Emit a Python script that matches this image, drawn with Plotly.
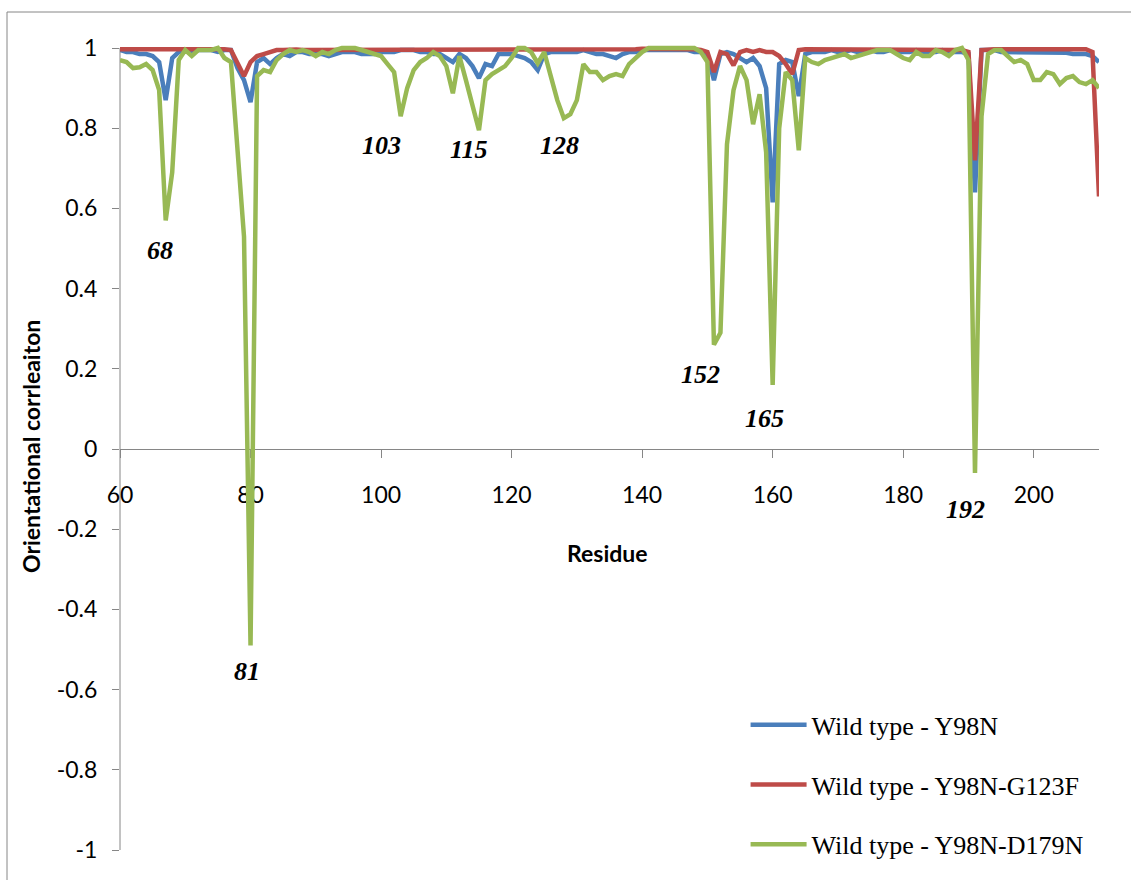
import plotly.graph_objects as go

residues = list(range(60, 211))

wt_y98n = [
    0.995, 0.99, 0.99, 0.985, 0.985, 0.98, 0.965, 0.87, 0.975, 0.99,      # 60-69
    0.995, 0.99, 0.995, 0.995, 0.995, 0.99, 0.995, 0.995, 0.95, 0.92,     # 70-79
    0.865, 0.965, 0.975, 0.96, 0.975, 0.985, 0.98, 0.99, 0.99, 0.985,     # 80-89
    0.985, 0.985, 0.98, 0.985, 0.99, 0.99, 0.99, 0.985, 0.985, 0.985,     # 90-99
    0.99, 0.99, 0.99, 0.995, 0.995, 0.995, 0.99, 0.99, 0.985, 0.985,      # 100-109
    0.975, 0.965, 0.985, 0.975, 0.955, 0.925, 0.96, 0.955, 0.985, 0.985,  # 110-119
    0.985, 0.98, 0.975, 0.965, 0.945, 0.985, 0.99, 0.99, 0.99, 0.99,      # 120-129
    0.99, 0.995, 0.99, 0.985, 0.985, 0.98, 0.975, 0.985, 0.99, 0.99,      # 130-139
    0.995, 0.995, 0.995, 0.995, 0.995, 0.995, 0.995, 0.995, 0.99, 0.99,   # 140-149
    0.985, 0.92, 0.985, 0.99, 0.985, 0.975, 0.965, 0.975, 0.955, 0.90,    # 150-159
    0.615, 0.96, 0.97, 0.965, 0.88, 0.985, 0.99, 0.99, 0.99, 0.995,       # 160-169
    0.99, 0.99, 0.995, 0.99, 0.99, 0.995, 0.99, 0.99, 0.995, 0.99,        # 170-179
    0.99, 0.99, 0.995, 0.99, 0.99, 0.99, 0.995, 0.99, 0.99, 0.99,         # 180-189
    0.985, 0.64, 0.995, 0.995, 0.995, 0.99, 0.99, 0.99, 0.99, 0.99,       # 190-199
    0.99, 0.99, 0.99, 0.99, 0.988, 0.988, 0.985, 0.985, 0.985, 0.98,      # 200-209
    0.965,                                                                  # 210
]

wt_y98n_g123f = [
    0.997, 0.997, 0.997, 0.996, 0.996, 0.996, 0.996, 0.997, 0.997, 0.997,  # 60-69
    0.998, 0.998, 0.998, 0.998, 0.998, 0.998, 0.997, 0.995, 0.965, 0.93,   # 70-79
    0.965, 0.98, 0.985, 0.99, 0.995, 0.995, 0.996, 0.996, 0.995, 0.995,    # 80-89
    0.995, 0.995, 0.996, 0.996, 0.997, 0.997, 0.997, 0.996, 0.996, 0.996,  # 90-99
    0.997, 0.997, 0.997, 0.997, 0.997, 0.997, 0.997, 0.997, 0.997, 0.997,  # 100-109
    0.997, 0.996, 0.997, 0.997, 0.996, 0.996, 0.997, 0.997, 0.997, 0.997,  # 110-119
    0.997, 0.997, 0.997, 0.997, 0.996, 0.997, 0.997, 0.997, 0.997, 0.997,  # 120-129
    0.997, 0.997, 0.997, 0.997, 0.997, 0.997, 0.997, 0.997, 0.997, 0.997,  # 130-139
    0.998, 0.998, 0.998, 0.998, 0.998, 0.998, 0.998, 0.997, 0.997, 0.995,  # 140-149
    0.99, 0.94, 0.99, 0.985, 0.957, 0.99, 0.995, 0.99, 0.995, 0.99,        # 150-159
    0.99, 0.98, 0.96, 0.935, 0.995, 0.997, 0.997, 0.997, 0.997, 0.997,     # 160-169
    0.997, 0.997, 0.997, 0.997, 0.997, 0.997, 0.997, 0.997, 0.997, 0.997,  # 170-179
    0.997, 0.997, 0.997, 0.997, 0.997, 0.997, 0.997, 0.997, 0.995, 0.995,  # 180-189
    0.99, 0.72, 0.995, 0.997, 0.997, 0.997, 0.997, 0.997, 0.997, 0.997,    # 190-199
    0.997, 0.997, 0.997, 0.997, 0.997, 0.997, 0.997, 0.997, 0.997, 0.99,   # 200-209
    0.63,                                                                   # 210
]

wt_y98n_d179n = [
    0.97, 0.965, 0.95, 0.952, 0.96, 0.945, 0.895, 0.57, 0.69, 0.97,       # 60-69
    0.995, 0.98, 0.995, 0.995, 0.995, 1.0, 0.975, 0.965, 0.74, 0.53,      # 70-79
    -0.49, 0.93, 0.945, 0.94, 0.97, 0.985, 0.995, 0.99, 0.995, 0.99,      # 80-89
    0.98, 0.99, 0.985, 0.995, 1.0, 1.0, 1.0, 0.995, 0.99, 0.985,          # 90-99
    0.98, 0.96, 0.94, 0.83, 0.90, 0.945, 0.965, 0.975, 0.99, 0.98,        # 100-109
    0.955, 0.887, 0.98, 0.92, 0.86, 0.795, 0.92, 0.935, 0.945, 0.955,     # 110-119
    0.975, 1.0, 1.0, 0.99, 0.962, 0.99, 0.93, 0.87, 0.825, 0.835,         # 120-129
    0.87, 0.96, 0.94, 0.94, 0.92, 0.93, 0.935, 0.93, 0.96, 0.975,         # 130-139
    0.99, 1.0, 1.0, 1.0, 1.0, 1.0, 1.0, 1.0, 1.0, 0.99,                   # 140-149
    0.965, 0.26, 0.29, 0.76, 0.895, 0.955, 0.92, 0.81, 0.885, 0.74,       # 150-159
    0.16, 0.80, 0.94, 0.92, 0.745, 0.975, 0.965, 0.96, 0.97, 0.975,       # 160-169
    0.98, 0.985, 0.975, 0.98, 0.985, 0.99, 0.995, 0.995, 0.995, 0.985,    # 170-179
    0.975, 0.97, 0.99, 0.98, 0.98, 0.995, 0.99, 0.98, 0.995, 1.0,         # 180-189
    0.97, -0.06, 0.83, 0.985, 0.995, 0.995, 0.98, 0.965, 0.97, 0.96,      # 190-199
    0.92, 0.92, 0.94, 0.935, 0.91, 0.925, 0.93, 0.915, 0.91, 0.92,        # 200-209
    0.90,                                                                   # 210
]

series_names = ["Wild type - Y98N", "Wild type - Y98N-G123F", "Wild type - Y98N-D179N"]
series_colors = ["#4A7EBB", "#BE4B48", "#98B954"]

x_tickvals = [60, 80, 100, 120, 140, 160, 180, 200]
y_tickvals = [1, 0.8, 0.6, 0.4, 0.2, 0, -0.2, -0.4, -0.6, -0.8, -1]
y_ticktext = ["1", "0.8", "0.6", "0.4", "0.2", "0", "-0.2", "-0.4", "-0.6", "-0.8", "-1"]

peak_labels = ["68", "81", "103", "115", "128", "152", "165", "192"]
peak_label_x = [66.1, 79.5, 100.1, 113.5, 127.4, 149.0, 158.8, 189.5]
peak_label_y = [0.494, -0.554, 0.756, 0.748, 0.756, 0.187, 0.077, -0.15]

W, H = 1131, 880
ML, MR, MT, MB = 120, 32, 42, 30
Y_RANGE = [-1, 1.015]
AXIS_GRAY = "#868686"
TICK_FONT = dict(family="Lato", size=23, color="#000000")

fig = go.Figure()
for name, vals, col in zip(series_names, [wt_y98n, wt_y98n_g123f, wt_y98n_d179n], series_colors):
    fig.add_trace(go.Scatter(
        x=residues, y=vals, mode="lines", name=name, legendgroup=name,
        line=dict(color=col, width=4.5),
    ))

x_axis_pos = (0 - Y_RANGE[0]) / (Y_RANGE[1] - Y_RANGE[0])

fig.update_layout(
    width=W, height=H, autosize=False,
    margin=dict(l=ML, r=MR, t=MT, b=MB),
    paper_bgcolor="white", plot_bgcolor="white",
    showlegend=True,
    legend=dict(
        x=0.639, y=0.184, xanchor="left", yanchor="top",
        font=dict(family="Liberation Serif", size=26, color="#000000"),
        bgcolor="rgba(0,0,0,0)", itemwidth=56, tracegroupgap=23,
        traceorder="grouped",
    ),
    xaxis=dict(
        range=[60, 210], tickvals=x_tickvals, ticks="outside", ticklen=8,
        tickcolor=AXIS_GRAY, showline=True, linecolor=AXIS_GRAY, linewidth=1,
        showgrid=False, zeroline=False, anchor="free", position=x_axis_pos,
        layer="below traces", tickfont=TICK_FONT, ticklabelstandoff=17,
    ),
    yaxis=dict(
        range=Y_RANGE, tickvals=y_tickvals, ticktext=y_ticktext, ticks="outside",
        ticklen=7, tickcolor=AXIS_GRAY, showline=False, showgrid=False,
        zeroline=False, layer="below traces", tickfont=TICK_FONT,
        ticklabelstandoff=10,
    ),
)

# y axis line (from -1 to 1) and chart border
fig.add_shape(type="line", xref="paper", yref="y", x0=0, x1=0, y0=-1, y1=1,
              line=dict(color=AXIS_GRAY, width=1), layer="below")
pw = W - ML - MR
ph = H - MT - MB
fig.add_shape(type="rect", xref="paper", yref="paper",
              x0=(7 - ML) / pw, x1=(W + 20 - ML) / pw,
              y0=-(MB + 20) / ph, y1=(H - MB - 12) / ph,
              line=dict(color=AXIS_GRAY, width=1), fillcolor="rgba(0,0,0,0)", layer="below")

for txt, lx, ly in zip(peak_labels, peak_label_x, peak_label_y):
    fig.add_annotation(x=lx, y=ly, xref="x", yref="y", text=txt, showarrow=False,
                       xanchor="center", yanchor="middle",
                       font=dict(family="Liberation Serif", size=26, color="#000000",
                                 style="italic", weight="bold"))

fig.add_annotation(x=(607 - ML) / pw, y=(H - MB - 553) / ph, xref="paper", yref="paper",
                   text="Residue", showarrow=False, xanchor="center", yanchor="middle",
                   font=dict(family="Lato", size=23, color="#000000", weight="bold"))
fig.add_annotation(x=(31 - ML) / pw, y=(H - MB - 447) / ph, xref="paper", yref="paper",
                   text="Orientational corrleaiton", showarrow=False, textangle=-90,
                   xanchor="center", yanchor="middle",
                   font=dict(family="Lato", size=23, color="#000000", weight="bold"))

fig.write_html("out.html", config={"displayModeBar": False},
               post_script="document.body.style.margin='0';")
